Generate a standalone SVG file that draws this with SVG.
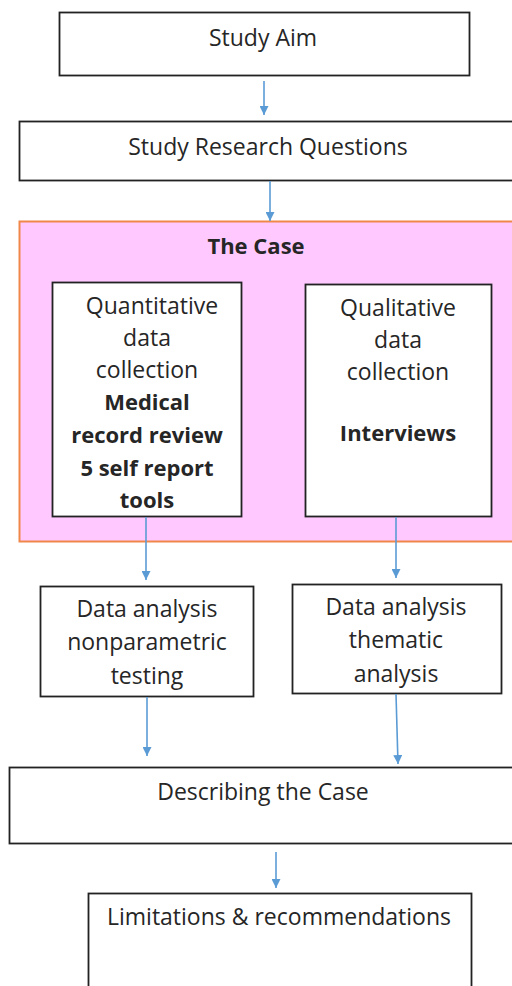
<svg xmlns="http://www.w3.org/2000/svg" width="512" height="986" viewBox="0 0 512 986">
<style>
.box{fill:#fff;stroke:#222;stroke-width:1.8}
.t{font-family:"Open Sans","Liberation Sans",sans-serif;font-size:23px;fill:#262626;text-anchor:middle}
.b{font-weight:bold;font-size:22px}
.c{stroke:#5B9BD5;stroke-width:1.6;fill:none}
</style>
<defs>
<marker id="ah" viewBox="0 0 10 10" refX="10" refY="5" markerWidth="9" markerHeight="9" markerUnits="userSpaceOnUse" orient="auto">
<path d="M0,0 L10,5 L0,10 z" fill="#5B9BD5"/>
</marker>
</defs>
<rect width="512" height="986" fill="#fff"/>
<g id="case">
<rect x="19.5" y="221.5" width="500" height="320" fill="#FFC9FF" stroke="#F0884A" stroke-width="2"/>
<text class="t b" x="256" y="254">The Case</text>
</g>
<g id="aim">
<rect class="box" x="59.5" y="12.5" width="410" height="63"/>
<text class="t" x="263" y="46">Study Aim</text>
</g>
<g id="rq">
<rect class="box" x="19.5" y="121.5" width="500" height="59"/>
<text class="t" x="268" y="155">Study Research Questions</text>
</g>
<g id="quant">
<rect class="box" x="52.5" y="282.5" width="189" height="234"/>
<text class="t" x="152" y="314">Quantitative</text>
<text class="t" x="147" y="346">data</text>
<text class="t" x="147" y="378">collection</text>
<text class="t b" x="147" y="410">Medical</text>
<text class="t b" x="147" y="443">record review</text>
<text class="t b" x="147" y="476">5 self report</text>
<text class="t b" x="147" y="508">tools</text>
</g>
<g id="qual">
<rect class="box" x="305.5" y="284.5" width="186" height="232"/>
<text class="t" x="398" y="316">Qualitative</text>
<text class="t" x="398" y="348">data</text>
<text class="t" x="398" y="380">collection</text>
<text class="t b" x="398" y="441">Interviews</text>
</g>
<g id="da1">
<rect class="box" x="40.5" y="586.5" width="213" height="110"/>
<text class="t" x="147" y="617">Data analysis</text>
<text class="t" x="147" y="650">nonparametric</text>
<text class="t" x="147" y="684">testing</text>
</g>
<g id="da2">
<rect class="box" x="292.5" y="584.5" width="209" height="109"/>
<text class="t" x="396" y="615">Data analysis</text>
<text class="t" x="396" y="648">thematic</text>
<text class="t" x="396" y="682">analysis</text>
</g>
<g id="desc">
<rect class="box" x="9.5" y="767.5" width="510" height="76"/>
<text class="t" x="263" y="800">Describing the Case</text>
</g>
<g id="lim">
<rect class="box" x="88.5" y="893.5" width="383" height="100"/>
<text class="t" x="279" y="925">Limitations &amp; recommendations</text>
</g>
<g id="connectors">
<line class="c" x1="264" y1="81" x2="264" y2="115" marker-end="url(#ah)"/>
<line class="c" x1="270" y1="181" x2="270" y2="221" marker-end="url(#ah)"/>
<line class="c" x1="146" y1="517" x2="146" y2="580" marker-end="url(#ah)"/>
<line class="c" x1="396" y1="517" x2="396" y2="578" marker-end="url(#ah)"/>
<line class="c" x1="147" y1="697" x2="147" y2="756" marker-end="url(#ah)"/>
<line class="c" x1="396" y1="694" x2="398" y2="764" marker-end="url(#ah)"/>
<line class="c" x1="276" y1="852" x2="276" y2="888" marker-end="url(#ah)"/>
</g>
</svg>
